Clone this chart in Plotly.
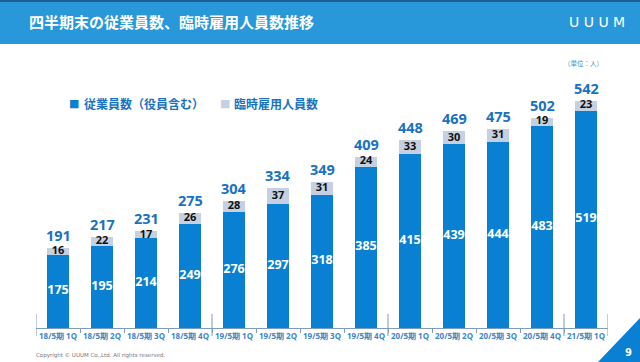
import plotly.graph_objects as go

categories = ["18/5期 1Q", "18/5期 2Q", "18/5期 3Q", "18/5期 4Q",
              "19/5期 1Q", "19/5期 2Q", "19/5期 3Q", "19/5期 4Q",
              "20/5期 1Q", "20/5期 2Q", "20/5期 3Q", "20/5期 4Q",
              "21/5期 1Q"]
employees = [175, 195, 214, 249, 276, 297, 318, 385, 415, 439, 444, 483, 519]
temporary = [16, 22, 17, 26, 28, 37, 31, 24, 33, 30, 31, 19, 23]
totals = [191, 217, 231, 275, 304, 334, 349, 409, 448, 469, 475, 502, 542]
year_boundaries = [-0.5, 3.5, 7.5, 11.5, 12.5]
series_names = ["従業員数（役員含む）", "臨時雇用人員数"]

BLUE = "#0a80d2"
GRAY = "#c5d0e2"
TXTBLUE = "#1a72bf"
NUMFONT = "Open Sans"
JPFONT = "Noto Sans CJK JP"

W, H = 640, 362
idx = list(range(len(categories)))

fig = go.Figure()
fig.add_trace(go.Bar(x=idx, y=employees, name=series_names[0], showlegend=False,
                     marker=dict(color=BLUE, line=dict(width=0)), width=0.5,
                     hoverinfo="skip"))
fig.add_trace(go.Bar(x=idx, y=temporary, name=series_names[1], showlegend=False,
                     marker=dict(color=GRAY, line=dict(width=0)), width=0.5,
                     hoverinfo="skip"))
# value labels
fig.add_trace(go.Scatter(x=idx, y=[e / 2 for e in employees], mode="text",
                         text=[str(e) for e in employees], showlegend=False,
                         textfont=dict(family=NUMFONT, size=12.5, color="white", weight="bold"),
                         cliponaxis=False, hoverinfo="skip"))
fig.add_trace(go.Scatter(x=idx, y=[e + t / 2 for e, t in zip(employees, temporary)], mode="text",
                         text=[str(t) for t in temporary], showlegend=False,
                         textfont=dict(family=NUMFONT, size=11, color="#111111", weight="bold"),
                         cliponaxis=False, hoverinfo="skip"))

y_bottom = (H - 328) / H
y_top = (H - 76.6) / H

shapes = [
    dict(type="rect", xref="paper", yref="paper", x0=0, x1=1, y0=1 - 44 / H, y1=1,
         fillcolor="#2898da", line=dict(width=0), layer="below"),
    dict(type="rect", xref="paper", yref="paper", x0=0, x1=1, y0=1 - 2 / H, y1=1,
         fillcolor="#1d5f95", line=dict(width=0), layer="below"),
    dict(type="path", xref="paper", yref="paper",
         path=f"M {598 / W} 0 L 1 {(H - 318) / H} L 1 0 Z",
         fillcolor="#0a80d2", line=dict(width=0)),
]
for b in year_boundaries:
    shapes.append(dict(type="line", xref="x", yref="paper", x0=b, x1=b,
                       y0=(H - 336) / H, y1=(H - 314) / H,
                       line=dict(color="#7e9cbc", width=1)))

def ann(text, x, y, size, color, family=JPFONT, anchor="left", bold=False):
    return dict(text=text, xref="paper", yref="paper", x=x / W, y=1 - y / H,
                xanchor=anchor, yanchor="middle", showarrow=False,
                font=dict(family=family, size=size, color=color,
                          weight="bold" if bold else "normal"))

annotations = [
    ann("四半期末の従業員数、臨時雇用人員数推移", 27, 22, 15, "white", bold=True),
    ann("U U U M", 597, 22, 14, "white", family="DejaVu Sans", anchor="center"),
    ann("（単位：人）", 583, 63, 6.5, "#4a8ac4", anchor="center"),
    ann("Copyright © UUUM Co.,Ltd. All rights reserved.", 34, 355, 5.5, "#777777",
        family="DejaVu Sans"),
    ann("9", 628, 352, 10, "white", family="DejaVu Sans", anchor="center", bold=True),
    # legend
    ann("■", 73.5, 103, 11, BLUE, family="DejaVu Sans", anchor="center"),
    ann(series_names[0], 82, 103, 12, TXTBLUE, bold=True),
    ann("■", 225, 103, 11, GRAY, family="DejaVu Sans", anchor="center"),
    ann(series_names[1], 232, 103, 12, TXTBLUE, bold=True),
]
# total labels above the stacked bars
for i, t in zip(idx, totals):
    annotations.append(dict(text=str(t), xref="x", yref="y", x=i, y=t,
                            xanchor="center", yanchor="bottom", yshift=1,
                            showarrow=False,
                            font=dict(family=NUMFONT, size=14.5, color=TXTBLUE, weight="bold")))

fig.update_layout(
    width=W, height=H, barmode="stack",
    margin=dict(l=0, r=0, t=0, b=0),
    paper_bgcolor="white", plot_bgcolor="white",
    showlegend=False,
    xaxis=dict(domain=[36 / W, 608 / W], range=[-0.5, 12.5],
               tickvals=idx, ticktext=categories,
               tickfont=dict(family=NUMFONT, size=8, color="#3a86c8", weight="bold"),
               showline=True, linecolor="#7e9cbc", linewidth=1,
               ticks="", showgrid=False, zeroline=False, fixedrange=True),
    yaxis=dict(domain=[y_bottom, y_top], range=[0, 600], visible=False,
               showgrid=False, zeroline=False),
    shapes=shapes, annotations=annotations,
    font=dict(family=JPFONT),
)

# minor ticks between categories
fig.update_xaxes(minor=dict(tickvals=[i + 0.5 for i in idx[:-1]], ticks="outside",
                            ticklen=4, tickcolor="#7e9cbc", tickwidth=1))

fig.write_html("out.html", config={"displayModeBar": False},
               post_script="document.body.style.margin='0';document.body.style.overflow='hidden';")
